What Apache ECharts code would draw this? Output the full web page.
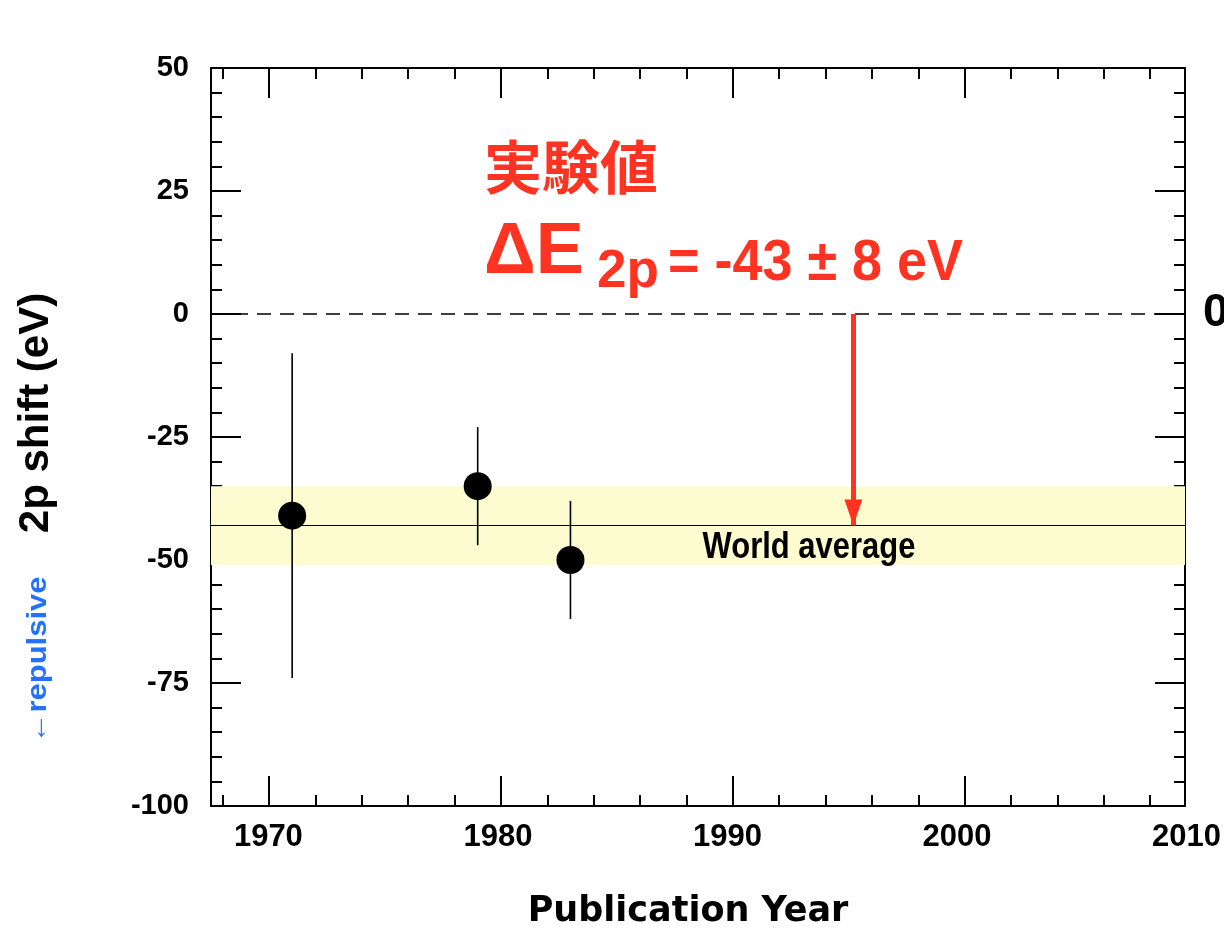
<!DOCTYPE html>
<html><head><meta charset="utf-8">
<script src="https://cdn.jsdelivr.net/npm/echarts@6/dist/echarts.min.js"></script>
<style>html,body{margin:0;padding:0;background:#fff}#c{width:1224px;height:930px}</style>
</head><body><div id="c"></div>
<script>
// ---- data ----
const years = [1971, 1979, 1983];
const shifts = [-41, -35, -50];
const errors = [33, 12, 12];
const worldAverage = -43;
const worldError = 8;
const arrowYear = 1995.2;
const xMajorTicks = [1970, 1980, 1990, 2000];
const xMinorTicks = [1968, 1972, 1974, 1976, 1978, 1982, 1984, 1986, 1988, 1992, 1994, 1996, 1998, 2002, 2004, 2006, 2008];
const xTickLabels = [1970, 1980, 1990, 2000, 2010];
const yMin = -100, yMax = 50, yStep = 25;
const xMin = 1967.5, xMax = 2009.5, xLabelMax = 2010;

const NARROW = "'Liberation Sans Narrow', 'Liberation Sans', Arial, sans-serif";
const SANS = "'Liberation Sans', Arial, sans-serif";
const RED = '#ff3322';

const chart = echarts.init(document.getElementById('c'), null, {renderer: 'canvas'});

const GL = 211, GT = 68, GW = 974, GH = 738;
const labelGridW = GW * (xLabelMax - xMin) / (xMax - xMin);

function xAxisTicks(position, values, len, withLine) {
  return {
    gridIndex: 0, type: 'value', position: position, min: xMin, max: xMax,
    axisLine: {show: withLine, onZero: false, lineStyle: {color: '#000', width: 2}},
    axisTick: {show: true, inside: true, length: len, customValues: values, lineStyle: {color: '#000', width: 2}},
    axisLabel: {show: false}, splitLine: {show: false}
  };
}

const pts = years.map((y, i) => [y, shifts[i]]);
const bars = years.map((y, i) => [y, shifts[i] - errors[i], shifts[i] + errors[i]]);

const option = {
  backgroundColor: '#fff',
  animation: false,
  grid: [
    {left: GL, top: GT, width: GW, height: GH},
    {left: GL, top: GT, width: labelGridW, height: GH}
  ],
  xAxis: [
    xAxisTicks('bottom', xMajorTicks, 30, true),
    xAxisTicks('bottom', xMinorTicks, 11, false),
    xAxisTicks('top', xMajorTicks, 30, true),
    xAxisTicks('top', xMinorTicks, 11, false),
    {
      gridIndex: 1, type: 'value', position: 'bottom', min: xMin, max: xLabelMax,
      axisLine: {show: false}, axisTick: {show: false}, splitLine: {show: false},
      axisLabel: {show: true, customValues: xTickLabels, margin: 16, color: '#000',
        formatter: v => String(v),
        fontFamily: NARROW, fontWeight: 'bold', fontSize: 31}
    }
  ],
  yAxis: [
    {
      gridIndex: 0, type: 'value', position: 'left', min: yMin, max: yMax, interval: yStep,
      axisLine: {show: true, onZero: false, lineStyle: {color: '#000', width: 2}},
      axisTick: {show: true, inside: true, length: 30, lineStyle: {color: '#000', width: 2}},
      minorTick: {show: true, splitNumber: 5, length: 11, lineStyle: {color: '#000', width: 2}},
      axisLabel: {show: true, margin: 22, color: '#000', fontFamily: NARROW, fontWeight: 'bold', fontSize: 29},
      splitLine: {show: false}
    },
    {
      gridIndex: 0, type: 'value', position: 'right', min: yMin, max: yMax, interval: yStep,
      axisLine: {show: true, onZero: false, lineStyle: {color: '#000', width: 2}},
      axisTick: {show: true, inside: true, length: 30, lineStyle: {color: '#000', width: 2}},
      minorTick: {show: true, splitNumber: 5, length: 11, lineStyle: {color: '#000', width: 2}},
      axisLabel: {show: false}, splitLine: {show: false}
    },
    {gridIndex: 1, type: 'value', min: yMin, max: yMax, show: false}
  ],
  series: [
    {
      type: 'scatter', xAxisIndex: 0, yAxisIndex: 0, data: [], silent: true, z: 1,
      markArea: {
        silent: true,
        itemStyle: {color: '#fdfbd0'},
        data: [[{yAxis: worldAverage + worldError}, {yAxis: worldAverage - worldError}]]
      },
      markLine: {
        silent: true, symbol: ['none', 'none'], label: {show: false},
        data: [
          {yAxis: worldAverage, lineStyle: {color: '#000', width: 1, type: 'solid'}},
          {yAxis: 0, lineStyle: {color: '#000', width: 1.5, type: [14, 9]}}
        ]
      }
    },
    {
      type: 'custom', xAxisIndex: 0, yAxisIndex: 0, z: 3, silent: true,
      data: bars,
      renderItem: function (params, api) {
        const x = api.value(0);
        const a = api.coord([x, api.value(1)]);
        const b = api.coord([x, api.value(2)]);
        return {type: 'line', shape: {x1: a[0], y1: a[1], x2: b[0], y2: b[1]},
          style: {stroke: '#000', lineWidth: 1.6}};
      }
    },
    {
      type: 'scatter', xAxisIndex: 0, yAxisIndex: 0, z: 4, silent: true,
      data: pts, symbol: 'circle', symbolSize: 28, itemStyle: {color: '#000', opacity: 1}
    },
    {
      type: 'scatter', xAxisIndex: 0, yAxisIndex: 0, silent: true, z: 5,
      data: [[arrowYear, worldAverage]],
      symbol: 'path://M0,0 L18,0 L9,26 Z', symbolSize: [18, 26], symbolOffset: [0, -13],
      symbolKeepAspect: false,
      itemStyle: {color: RED, opacity: 1},
      markLine: {
        silent: true, symbol: ['none', 'none'],
        label: {show: false},
        lineStyle: {color: RED, width: 5, type: 'solid', opacity: 1},
        data: [[{coord: [arrowYear, 0]}, {coord: [arrowYear, worldAverage]}]]
      }
    }
  ],
  graphic: [
    {type: 'text', x: 809, y: 548, z: 10, scaleX: 0.86, style: {text: 'World average', fill: '#000',
      font: "bold 36px " + NARROW, align: 'center', verticalAlign: 'middle'}},
    {type: 'text', x: 688, y: 912, style: {text: 'Publication Year', fill: '#000',
      font: "bold 35px 'DejaVu Sans', sans-serif", align: 'center', verticalAlign: 'middle'}},
    {type: 'text', x: 36, y: 413, rotation: Math.PI / 2, style: {text: '2p shift (eV)', fill: '#000',
      font: "bold 42px " + SANS, align: 'center', verticalAlign: 'middle'}},
    {type: 'text', x: 38, y: 660, rotation: Math.PI / 2, scaleY: 0.9, style: {text: '←repulsive', fill: '#2272ff',
      font: "bold 31px " + NARROW, align: 'center', verticalAlign: 'middle'}},
    {type: 'text', x: 1203, y: 313, style: {text: '0', fill: '#000',
      font: "bold 46px " + SANS, align: 'left', verticalAlign: 'middle'}},
    {type: 'text', x: 484, y: 167, style: {text: '実験値', fill: RED,
      font: "bold 58px 'Noto Sans CJK JP', sans-serif", align: 'left', verticalAlign: 'middle'}},
    {type: 'text', x: 484, y: 253, style: {text: 'ΔE', fill: RED,
      font: "bold 72px " + SANS, align: 'left', verticalAlign: 'middle'}},
    {type: 'text', x: 597, y: 272, style: {text: '2p', fill: RED,
      font: "bold 53px " + SANS, align: 'left', verticalAlign: 'middle'}},
    {type: 'text', x: 668, y: 264, scaleX: 0.93, style: {text: '= -43 ± 8 eV', fill: RED,
      font: "bold 58px " + SANS, align: 'left', verticalAlign: 'middle'}}
  ]
};
chart.setOption(option);
</script></body></html>
